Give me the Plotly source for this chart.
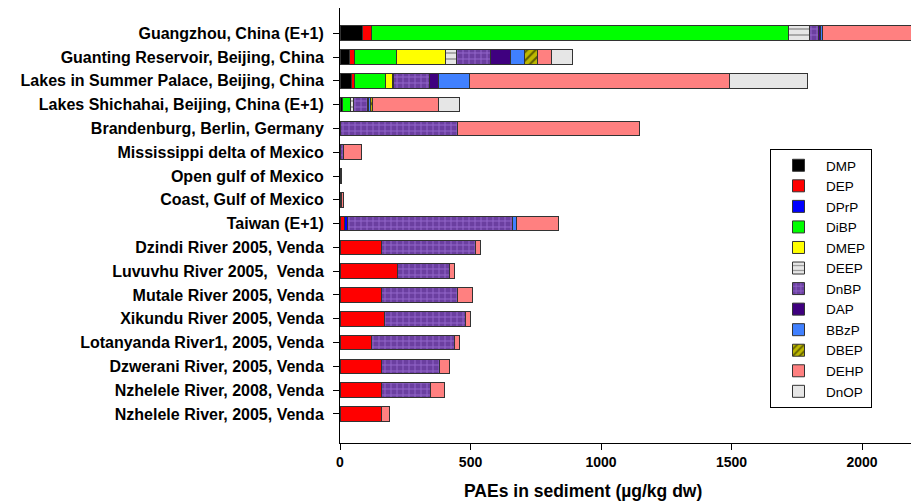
import plotly.graph_objects as go

categories = ["Guangzhou, China (E+1)", "Guanting Reservoir, Beijing, China",
              "Lakes in Summer Palace, Beijing, China", "Lakes Shichahai, Beijing, China (E+1)",
              "Brandenburg, Berlin, Germany", "Mississippi delta of Mexico",
              "Open gulf of Mexico", "Coast, Gulf of Mexico", "Taiwan (E+1)",
              "Dzindi River 2005, Venda", "Luvuvhu River 2005,  Venda",
              "Mutale River 2005, Venda", "Xikundu River 2005, Venda",
              "Lotanyanda River1, 2005, Venda", "Dzwerani River, 2005, Venda",
              "Nzhelele River, 2008, Venda", "Nzhelele River, 2005, Venda"]

DMP  = [85, 38, 45, 9, 0, 0, 0, 0, 0, 0, 0, 0, 0, 0, 0, 0, 0]
DEP  = [36, 17, 10, 0, 0, 0, 0, 0, 18, 160, 220, 160, 169, 119, 160, 160, 160]
DPrP = [0, 0, 0, 0, 0, 0, 0, 0, 9, 0, 0, 0, 0, 0, 0, 0, 0]
DiBP = [1596, 160, 118, 33, 0, 0, 0, 0, 0, 0, 0, 0, 0, 0, 0, 0, 0]
DMEP = [0, 188, 29, 0, 0, 0, 0, 0, 0, 0, 0, 0, 0, 0, 0, 0, 0]
DEEP = [80, 42, 3, 11, 0, 0, 0, 0, 0, 0, 0, 0, 0, 0, 0, 0, 0]
DnBP = [37, 130, 137, 51, 451, 13, 2, 6, 632, 360, 199, 290, 310, 321, 220, 188, 0]
DAP  = [8, 79, 37, 6, 0, 0, 0, 0, 0, 0, 0, 0, 0, 0, 0, 0, 0]
BBzP = [8, 51, 116, 6, 0, 0, 0, 0, 18, 0, 0, 0, 0, 0, 0, 0, 0]
DBEP = [0, 50, 0, 8, 0, 0, 0, 0, 0, 0, 0, 0, 0, 0, 0, 0, 0]
DEHP = [364, 55, 996, 252, 696, 68, 4, 7, 160, 18, 19, 59, 19, 19, 40, 51, 29]
DnOP = [0, 80, 299, 82, 0, 0, 0, 0, 0, 0, 0, 0, 0, 0, 0, 0, 0]

x_ticks = [0, 500, 1000, 1500, 2000]
x_title = "PAEs in sediment (µg/kg dw)"

series = [
    ("DMP", DMP, "#000000", None),
    ("DEP", DEP, "#ff0000", None),
    ("DPrP", DPrP, "#0000ff", None),
    ("DiBP", DiBP, "#00ff00", None),
    ("DMEP", DMEP, "#ffff00", None),
    ("DEEP", DEEP, "#e6e6e6", dict(shape="-", fgcolor="#444444", size=6, solidity=0.25)),
    ("DnBP", DnBP, "#6b3fa0", dict(shape="+", fgcolor="#b98cf5", size=6, solidity=0.3)),
    ("DAP", DAP, "#3f007f", None),
    ("BBzP", BBzP, "#4080ff", None),
    ("DBEP", DBEP, "#bdb800", dict(shape="/", fgcolor="#000000", size=6, solidity=0.35)),
    ("DEHP", DEHP, "#ff8080", None),
    ("DnOP", DnOP, "#e6e6e6", None),
]

fig = go.Figure()
for name, vals, color, pat in series:
    marker = dict(color=color, line=dict(color="#333333", width=1))
    if pat:
        p = dict(pat)
        p["fillmode"] = "overlay"
        marker["pattern"] = p
    fig.add_trace(go.Bar(name=name, y=categories, x=vals, orientation="h",
                         marker=marker, hoverinfo="skip"))

FONT = "Liberation Sans, Arial, sans-serif"
fig.update_layout(
    barmode="stack",
    bargap=0.38,
    width=911, height=493,
    margin=dict(l=332, r=0, t=0, b=58),
    paper_bgcolor="white", plot_bgcolor="white",
    font=dict(family=FONT, color="#000000"),
    legend=dict(x=(770 - 340) / 579, y=(443 - 149) / 435, xanchor="left", yanchor="top",
                bordercolor="#000000", borderwidth=1, bgcolor="white",
                font=dict(size=13.5), tracegroupgap=0, traceorder="normal",
                itemwidth=45),
    showlegend=True,
    annotations=[dict(text="<b>" + x_title + "</b>", xref="paper", yref="paper",
                      x=(583 - 340) / 579, y=-(483 - 435) / 435,
                      xanchor="center", yanchor="middle", showarrow=False,
                      font=dict(size=17.5, family=FONT))],
)
fig.update_xaxes(range=[0, 2218], tickvals=x_ticks, ticks="outside", ticklen=6,
                 tickcolor="#000", showline=True, linecolor="#000", linewidth=1,
                 showgrid=False, zeroline=False,
                 tickfont=dict(size=14, family=FONT, weight="bold"))
fig.update_yaxes(categoryorder="array", categoryarray=categories,
                 range=[17.22, -1.06], ticks="outside", ticklen=6, tickcolor="#000",
                 showline=True, linecolor="#000", linewidth=1, showgrid=False,
                 tickfont=dict(size=16, family=FONT, weight="bold"),
                 ticklabelstandoff=6)

fig.write_html("out.html")
